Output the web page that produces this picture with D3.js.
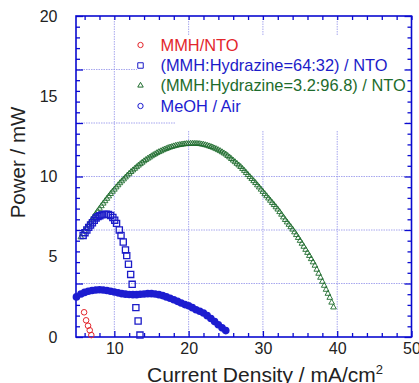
<!DOCTYPE html>
<html>
<head>
<meta charset="utf-8">
<script src="https://cdn.jsdelivr.net/npm/d3@7"></script>
<style>
  html, body { margin: 0; padding: 0; background: #fff; }
  svg { display: block; font-family: "Liberation Sans", Arial, sans-serif; }
</style>
</head>
<body>
<svg id="chart" width="419" height="383"></svg>
<script>
// MMH/NTO
const mmhX = [5.93, 6.2, 6.46, 6.69, 6.9];
const mmhY = [1.54, 1.04, 0.70, 0.42, 0.12];

// (MMH:Hydrazine=64:32) / NTO
const mix64X = [5.8, 6.05, 6.3, 6.55, 6.8, 7.05, 7.3, 7.55, 7.8, 8.05, 8.3, 8.6, 8.9, 9.2, 9.5, 9.8, 10.05, 10.3,
  10.67, 10.9, 11.2, 11.5, 11.67, 11.9, 12.2, 12.4, 12.9, 13.2, 13.45];
const mix64Y = [6.33, 6.5, 6.67, 6.83, 6.98, 7.12, 7.27, 7.42, 7.5, 7.56, 7.61, 7.64, 7.65, 7.63, 7.57, 7.45, 7.28, 7.08,
  6.67, 6.33, 5.92, 5.42, 5.07, 4.53, 3.9, 3.28, 1.83, 1.0, 0.12];

// (MMH:Hydrazine=3.2:96.8) / NTO
const mix3X = [5.5, 5.75, 6.0, 6.25, 6.5, 6.75, 7.0, 7.25, 7.5, 7.75, 8.0, 8.25, 8.5, 8.75, 9.0, 9.25, 9.5, 9.75,
  10.0, 10.25, 10.5, 10.75, 11.0, 11.25, 11.5, 11.75, 12.0, 12.25, 12.5, 12.75, 13.0, 13.25, 13.5, 13.75,
  14.0, 14.25, 14.5, 14.75, 15.0, 15.25, 15.5, 15.75, 16.0, 16.25, 16.5, 16.75, 17.0, 17.25, 17.5, 17.75,
  18.0, 18.25, 18.5, 18.75, 19.0, 19.25, 19.5, 19.75, 20.0, 20.25, 20.5, 20.75, 21.0, 21.25, 21.5, 21.75,
  22.0, 22.25, 22.5, 22.75, 23.0, 23.25, 23.5, 23.75, 24.0, 24.25, 24.5, 24.75, 25.0, 25.25, 25.5, 25.75,
  26.0, 26.25, 26.5, 26.75, 27.0, 27.25, 27.5, 27.75, 28.0, 28.25, 28.5, 28.75, 29.0, 29.25, 29.5, 29.75,
  30.0, 30.25, 30.5, 30.75, 31.0, 31.25, 31.5, 31.75, 32.0, 32.25, 32.5, 32.75, 33.0, 33.25, 33.5, 33.75,
  34.0, 34.25, 34.5, 34.75, 35.0, 35.25, 35.5, 35.75, 36.0, 36.25, 36.5, 36.75, 37.0, 37.25, 37.5, 37.75,
  38.0, 38.25, 38.5, 38.75, 39.0, 39.25, 39.5];
const mix3Y = [6.22, 6.42, 6.6, 6.79, 6.97, 7.15, 7.33, 7.5, 7.67, 7.84, 8.0, 8.16, 8.32, 8.47, 8.62, 8.77, 8.92, 9.06,
  9.19, 9.33, 9.46, 9.59, 9.71, 9.83, 9.95, 10.07, 10.18, 10.29, 10.39, 10.49, 10.59, 10.69, 10.78, 10.87,
  10.96, 11.04, 11.12, 11.19, 11.27, 11.34, 11.4, 11.47, 11.53, 11.58, 11.64, 11.69, 11.73, 11.78, 11.82, 11.85,
  11.89, 11.92, 11.95, 11.97, 11.99, 12.01, 12.02, 12.04, 12.04, 12.05, 12.05, 12.05, 12.05, 12.04, 12.03, 12.01,
  11.99, 11.96, 11.93, 11.89, 11.85, 11.81, 11.76, 11.71, 11.65, 11.59, 11.52, 11.45, 11.38, 11.29, 11.2, 11.1,
  11.0, 10.9, 10.8, 10.7, 10.6, 10.48, 10.36, 10.23, 10.1, 9.97, 9.85, 9.72, 9.6, 9.46, 9.33, 9.19,
  9.05, 8.91, 8.78, 8.64, 8.5, 8.36, 8.23, 8.09, 7.95, 7.79, 7.63, 7.46, 7.3, 7.15, 7.0, 6.85,
  6.7, 6.53, 6.36, 6.18, 6.0, 5.82, 5.63, 5.44, 5.25, 5.06, 4.86, 4.66, 4.45, 4.2, 3.95, 3.7,
  3.45, 3.2, 2.95, 2.7, 2.45, 2.15, 1.85];

// MeOH / Air
const meohX = [4.9, 5.5, 6.0, 6.5, 7.0, 7.5, 8.0, 8.5, 9.0, 9.5, 10.0, 10.5, 11.0, 11.5, 12.0, 12.5, 13.0, 13.5, 14.0,
  14.5, 15.0, 15.5, 16.0, 16.5, 17.0, 17.5, 18.0, 18.5, 19.0, 19.5, 20.0, 20.5, 21.0, 21.5, 22.0, 22.5, 23.0,
  23.5, 24.0, 24.5, 25.0];
const meohY = [2.5, 2.68, 2.78, 2.85, 2.9, 2.93, 2.94, 2.93, 2.9, 2.85, 2.8, 2.75, 2.7, 2.67, 2.65, 2.64, 2.64, 2.66, 2.68,
  2.7, 2.7, 2.68, 2.64, 2.58, 2.5, 2.41, 2.32, 2.22, 2.12, 2.02, 1.95, 1.83, 1.7, 1.6, 1.5, 1.33, 1.15,
  0.96, 0.76, 0.57, 0.4];

const xTickLabels = [10, 20, 30, 40, 50];
const xMinorTicks = [6, 8, 12, 14, 16, 18, 22, 24, 26, 28, 32, 34, 36, 38, 42, 44, 46, 48];
const yTickLabels = [0, 5, 10, 15, 20];
const xGrid = [10, 20, 30, 40];

const seriesNames = ["MMH/NTO", "(MMH:Hydrazine=64:32) / NTO", "(MMH:Hydrazine=3.2:96.8) / NTO", "MeOH / Air"];
const seriesColors = ["#e3262c", "#1c1cc8", "#1d6b2c", "#1c1cd0"];

const margin = {top: 16, right: 7.5, bottom: 46, left: 76};
const width = 419, height = 383;
const axisBlue = "#0a0ad0";

const svg = d3.select("#chart");
const x = d3.scaleLinear().domain([4.84, 50]).range([margin.left, width - margin.right]);
const y = d3.scaleLinear().domain([0, 20]).range([height - margin.bottom, margin.top]);

// y ticks every 2/3, major every 10/3 (5 subdivisions)
const yMinor = d3.range(0, 31).map(i => i * 2 / 3).filter((d, i) => i % 5 !== 0);
const yMajor = d3.range(0, 7).map(i => i * 10 / 3);
const yGrid = yMajor.filter(d => d > 0 && d < 20);

// grid
const grid = svg.append("g")
  .attr("stroke", "#8a8ae8")
  .attr("stroke-opacity", 0.75)
  .attr("stroke-width", 1)
  .attr("stroke-dasharray", "1.5,1");
grid.selectAll("line.v").data(xGrid).enter().append("line")
  .attr("x1", d => x(d)).attr("x2", d => x(d))
  .attr("y1", y(20)).attr("y2", y(0));
grid.selectAll("line.h").data(yGrid).enter().append("line")
  .attr("x1", x.range()[0]).attr("x2", x.range()[1])
  .attr("y1", d => y(d)).attr("y2", d => y(d));

// legend background
svg.append("rect").attr("x", 137).attr("y", 35).attr("width", 268).attr("height", 83).attr("fill", "#fff");
svg.append("rect").attr("x", 175).attr("y", 117).attr("width", 230).attr("height", 14).attr("fill", "#fff");

// axes
function styleAxis(g) {
  g.select(".domain").remove();
  g.selectAll(".tick line").attr("stroke", axisBlue).attr("stroke-width", 1.3);
  g.selectAll(".tick text").attr("fill", "#222").style("font-size", "16px");
}
const bottomY = y(0), topY = y(20), leftX = x.range()[0], rightX = x.range()[1];

svg.append("g").attr("transform", `translate(0,${bottomY})`)
  .call(d3.axisBottom(x).tickValues(xTickLabels).tickSizeInner(-6).tickSizeOuter(0).tickPadding(6))
  .call(styleAxis)
  .attr("font-family", null);
svg.append("g").attr("transform", `translate(0,${bottomY})`)
  .call(d3.axisBottom(x).tickValues(xMinorTicks).tickSize(-4).tickFormat(""))
  .call(styleAxis);
svg.append("g").attr("transform", `translate(0,${topY})`)
  .call(d3.axisTop(x).tickValues(xTickLabels.concat(xMinorTicks)).tickSize(-4).tickFormat(""))
  .call(styleAxis);

svg.append("g").attr("transform", `translate(${leftX},0)`)
  .call(d3.axisLeft(y).tickValues(yTickLabels).tickSize(0).tickPadding(18.5))
  .call(styleAxis)
  .attr("font-family", null);
svg.append("g").attr("transform", `translate(${leftX},0)`)
  .call(d3.axisLeft(y).tickValues(yMinor).tickSize(-4).tickFormat(""))
  .call(styleAxis);
svg.append("g").attr("transform", `translate(${leftX},0)`)
  .call(d3.axisLeft(y).tickValues(yMajor).tickSize(-7).tickFormat(""))
  .call(styleAxis);
svg.append("g").attr("transform", `translate(${rightX},0)`)
  .call(d3.axisRight(y).tickValues(yMinor).tickSize(-4).tickFormat(""))
  .call(styleAxis);
svg.append("g").attr("transform", `translate(${rightX},0)`)
  .call(d3.axisRight(y).tickValues(yMajor).tickSize(-7).tickFormat(""))
  .call(styleAxis);

svg.append("rect")
  .attr("x", leftX).attr("y", topY)
  .attr("width", rightX - leftX).attr("height", bottomY - topY)
  .attr("fill", "none").attr("stroke", axisBlue).attr("stroke-width", 1.6);

// axis titles
svg.append("text")
  .attr("transform", `translate(24.5,${(topY + bottomY) / 2 - 14}) rotate(-90)`)
  .attr("text-anchor", "middle")
  .attr("fill", "#222")
  .style("font-size", "20.5px")
  .text("Power / mW");
const xt = svg.append("text")
  .attr("x", 147).attr("y", 382)
  .attr("fill", "#222")
  .style("font-size", "21px");
xt.append("tspan").text("Current Density / mA/cm");
xt.append("tspan").attr("dy", -8).style("font-size", "13px").text("2");

// data
const zip = (xs, ys) => xs.map((d, i) => [d, ys[i]]);

svg.append("g").selectAll("circle")
  .data(zip(meohX, meohY)).enter().append("circle")
  .attr("cx", d => x(d[0])).attr("cy", d => y(d[1])).attr("r", 3.8)
  .attr("fill", seriesColors[3]);

svg.append("g").selectAll("path")
  .data(zip(mix3X, mix3Y)).enter().append("path")
  .attr("d", d3.symbol(d3.symbolTriangle, 14))
  .attr("transform", d => `translate(${x(d[0])},${y(d[1])})`)
  .attr("fill", "none").attr("stroke", seriesColors[2]).attr("stroke-width", 0.9);

svg.append("g").selectAll("path")
  .data(zip(mix64X, mix64Y)).enter().append("path")
  .attr("d", d3.symbol(d3.symbolSquare, 38))
  .attr("transform", d => `translate(${x(d[0])},${y(d[1])})`)
  .attr("fill", "none").attr("stroke", seriesColors[1]).attr("stroke-width", 1.3);

svg.append("g").selectAll("circle")
  .data(zip(mmhX, mmhY)).enter().append("circle")
  .attr("cx", d => x(d[0])).attr("cy", d => y(d[1])).attr("r", 2.8)
  .attr("fill", "none").attr("stroke", seriesColors[0]).attr("stroke-width", 1);

// legend
const legendRows = [45, 65.5, 85.5, 106];
const legend = svg.append("g");
const markers = [
  d3.symbol(d3.symbolCircle, 22),
  d3.symbol(d3.symbolSquare, 30),
  d3.symbol(d3.symbolTriangle, 13),
  d3.symbol(d3.symbolCircle, 22)
];
seriesNames.forEach((name, i) => {
  legend.append("path")
    .attr("d", markers[i])
    .attr("transform", `translate(140.5,${legendRows[i]})`)
    .attr("fill", "none").attr("stroke", seriesColors[i]).attr("stroke-width", 1);
  legend.append("text")
    .attr("x", 160.5).attr("y", legendRows[i]).attr("dy", "0.36em")
    .attr("fill", seriesColors[i])
    .style("font-size", "16.4px")
    .text(name);
});
</script>
</body>
</html>
